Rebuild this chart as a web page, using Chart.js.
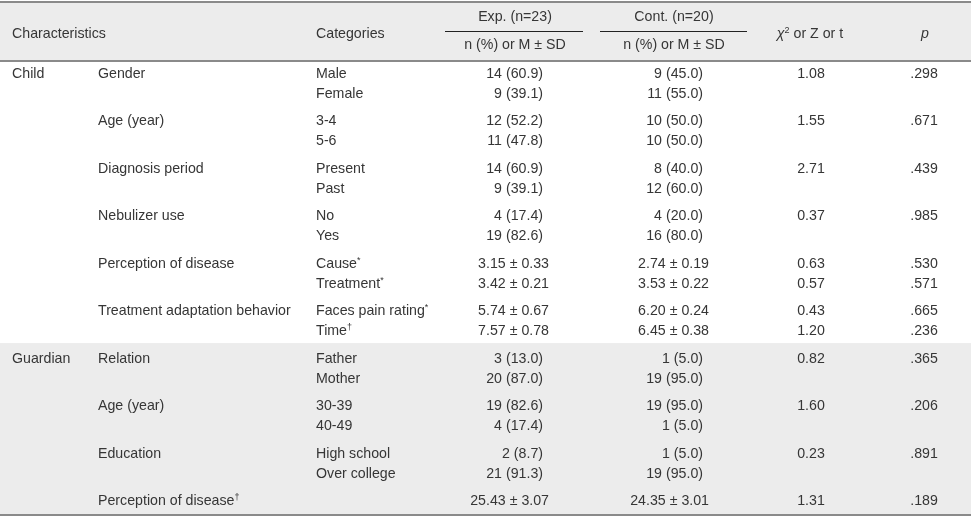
<!DOCTYPE html>
<html>
<head>
<meta charset="utf-8">
<script src="https://cdn.jsdelivr.net/npm/chart.js@4.4.1/dist/chart.umd.min.js"></script>
<style>
html, body { margin: 0; padding: 0; background: #fff; }
canvas { display: block; }
</style>
</head>
<body>
<canvas id="table" width="971" height="520"></canvas>
<script>
// table content
const sections   = ['Child', 'Guardian'];
const sectionOf  = [0, 0, 0, 0, 0, 0, 1, 1, 1, 1];
const variables  = ['Gender', 'Age (year)', 'Diagnosis period', 'Nebulizer use', 'Perception of disease',
                    'Treatment adaptation behavior', 'Relation', 'Age (year)', 'Education', 'Perception of disease†'];
const categories = [['Male', 'Female'], ['3-4', '5-6'], ['Present', 'Past'], ['No', 'Yes'], ['Cause*', 'Treatment*'],
                    ['Faces pain rating*', 'Time†'], ['Father', 'Mother'], ['30-39', '40-49'], ['High school', 'Over college'], ['']];
const expValues  = [['14 (60.9)', '9 (39.1)'], ['12 (52.2)', '11 (47.8)'], ['14 (60.9)', '9 (39.1)'], ['4 (17.4)', '19 (82.6)'],
                    ['3.15 ± 0.33', '3.42 ± 0.21'], ['5.74 ± 0.67', '7.57 ± 0.78'], ['3 (13.0)', '20 (87.0)'],
                    ['19 (82.6)', '4 (17.4)'], ['2 (8.7)', '21 (91.3)'], ['25.43 ± 3.07']];
const contValues = [['9 (45.0)', '11 (55.0)'], ['10 (50.0)', '10 (50.0)'], ['8 (40.0)', '12 (60.0)'], ['4 (20.0)', '16 (80.0)'],
                    ['2.74 ± 0.19', '3.53 ± 0.22'], ['6.20 ± 0.24', '6.45 ± 0.38'], ['1 (5.0)', '19 (95.0)'],
                    ['19 (95.0)', '1 (5.0)'], ['1 (5.0)', '19 (95.0)'], ['24.35 ± 3.01']];
const testValues = [['1.08'], ['1.55'], ['2.71'], ['0.37'], ['0.63', '0.57'], ['0.43', '1.20'], ['0.82'], ['1.60'], ['0.23'], ['1.31']];
const pValues    = [['.298'], ['.671'], ['.439'], ['.985'], ['.530', '.571'], ['.665', '.236'], ['.365'], ['.206'], ['.891'], ['.189']];

const headChar   = 'Characteristics';
const headCat    = 'Categories';
const headExp    = 'Exp. (n=23)';
const headCont   = 'Cont. (n=20)';
const headStat   = 'n (%) or M ± SD';
const headTest   = 'χ² or Z or t';
const headP      = 'p';

// look
const textColor  = '#363636';
const ruleColor  = '#8a8a8a';
const shadeColor = '#ececec';
const fontFamily = '"Liberation Sans", Arial, sans-serif';
const fontSize   = 14.2;

// column anchors on the x scale, row layout on the y scale (1 unit = one text line)
const col = { section: 12, variable: 98, category: 316, expCount: 543, expMean: 549, contCount: 703, contMean: 709,
              expMid: 515, contMid: 674, test: 811, p: 924 };
const expSpan  = [445, 583];
const contSpan = [600, 747];
const firstLine = 3.9;
const groupStep = 2.3725;

function lineY(i, k) { return firstLine + groupStep * i + k; }

// every cell becomes a point on the scatter dataset
const cells = [];
function addCell(x, y, text, align) {
    if (text) cells.push({ x: x, y: y, text: text, align: align });
}

addCell(col.section, firstLine - 2.0, headChar, 'left');
addCell(col.category, firstLine - 2.0, headCat, 'left');
addCell(col.expMid, firstLine - 2.85, headExp, 'center');
addCell(col.expMid, firstLine - 1.45, headStat, 'center');
addCell(col.contMid, firstLine - 2.85, headCont, 'center');
addCell(col.contMid, firstLine - 1.45, headStat, 'center');
addCell(col.test - 1, firstLine - 2.0, headTest, 'center');
addCell(col.p + 1, firstLine - 2.0, headP, 'center');

variables.forEach(function (v, i) {
    if (i === 0 || sectionOf[i] !== sectionOf[i - 1]) addCell(col.section, lineY(i, 0), sections[sectionOf[i]], 'left');
    addCell(col.variable, lineY(i, 0), v, 'left');
    categories[i].forEach(function (c, k) { addCell(col.category, lineY(i, k), c, 'left'); });
    expValues[i].forEach(function (c, k) {
        addCell(c.indexOf('±') >= 0 ? col.expMean : col.expCount, lineY(i, k), c, 'right');
    });
    contValues[i].forEach(function (c, k) {
        addCell(c.indexOf('±') >= 0 ? col.contMean : col.contCount, lineY(i, k), c, 'right');
    });
    testValues[i].forEach(function (c, k) { addCell(col.test, lineY(i, k), c, 'center'); });
    pValues[i].forEach(function (c, k) { addCell(col.p, lineY(i, k), c, 'center'); });
});
cells[7].italic = true;

const lastIndex = variables.length - 1;
const guardianStart = sectionOf.indexOf(1);

// split text into runs: superscript marks and the italic chi
function toRuns(text, italic) {
    const runs = [];
    for (const ch of text) {
        let style = italic ? 'i' : 'n';
        let t = ch;
        if (ch === '*' || ch === '†') style = 's';
        if (ch === '²') { style = 's'; t = '2'; }
        if (ch === 'χ') style = 'i';
        const last = runs[runs.length - 1];
        if (last && last.style === style) last.t += t;
        else runs.push({ t: t, style: style });
    }
    return runs;
}
function runFont(style) {
    if (style === 's') return '9px ' + fontFamily;
    if (style === 'i') return 'italic ' + fontSize + 'px ' + fontFamily;
    return fontSize + 'px ' + fontFamily;
}

const tablePlugin = {
    id: 'tablePlugin',
    beforeDatasetsDraw(chart) {
        const ctx = chart.ctx, xs = chart.scales.x, ys = chart.scales.y;
        const left = xs.getPixelForValue(xs.min), right = xs.getPixelForValue(xs.max);
        const top = ys.getPixelForValue(firstLine - 3.8);
        const headBottom = ys.getPixelForValue(firstLine - 0.85);
        const shadeTop = ys.getPixelForValue(lineY(guardianStart, 0) - 0.98);
        const bottom = ys.getPixelForValue(lineY(lastIndex, 0) + 0.475);
        ctx.save();
        ctx.fillStyle = shadeColor;
        ctx.fillRect(left, top, right - left, headBottom - top);
        ctx.fillRect(left, shadeTop, right - left, bottom - shadeTop);
        ctx.fillStyle = ruleColor;
        [top, headBottom, bottom].forEach(function (y) { ctx.fillRect(left, Math.round(y) - 1, right - left, 2); });
        const sub = Math.round(ys.getPixelForValue(firstLine - 2.33));
        ctx.fillStyle = '#222';
        [expSpan, contSpan].forEach(function (s) {
            const a = xs.getPixelForValue(s[0]), b = xs.getPixelForValue(s[1]);
            ctx.fillRect(a, sub, b - a, 1);
        });
        ctx.restore();
    },
    afterDatasetsDraw(chart) {
        const ctx = chart.ctx;
        const meta = chart.getDatasetMeta(0);
        ctx.save();
        ctx.fillStyle = textColor;
        ctx.textBaseline = 'alphabetic';
        ctx.textAlign = 'left';
        meta.data.forEach(function (pt, idx) {
            const cell = cells[idx];
            const runs = toRuns(cell.text, cell.italic);
            let width = 0;
            runs.forEach(function (r) { ctx.font = runFont(r.style); r.w = ctx.measureText(r.t).width; width += r.w; });
            let x = pt.x;
            if (cell.align === 'right') x -= width;
            if (cell.align === 'center') x -= width / 2;
            runs.forEach(function (r) {
                ctx.font = runFont(r.style);
                ctx.fillText(r.t, x, pt.y - (r.style === 's' ? 5 : 0));
                x += r.w;
            });
        });
        ctx.restore();
    }
};

new Chart(document.getElementById('table').getContext('2d'), {
    type: 'scatter',
    data: {
        datasets: [{
            data: cells,
            pointRadius: 0,
            pointHoverRadius: 0
        }]
    },
    plugins: [tablePlugin],
    options: {
        responsive: false,
        animation: false,
        events: [],
        layout: { padding: 0 },
        plugins: {
            legend: { display: false },
            tooltip: { enabled: false }
        },
        scales: {
            x: { type: 'linear', min: 0, max: 971, display: false },
            y: { type: 'linear', min: 0, max: 26, reverse: true, display: false }
        }
    }
});
</script>
</body>
</html>
